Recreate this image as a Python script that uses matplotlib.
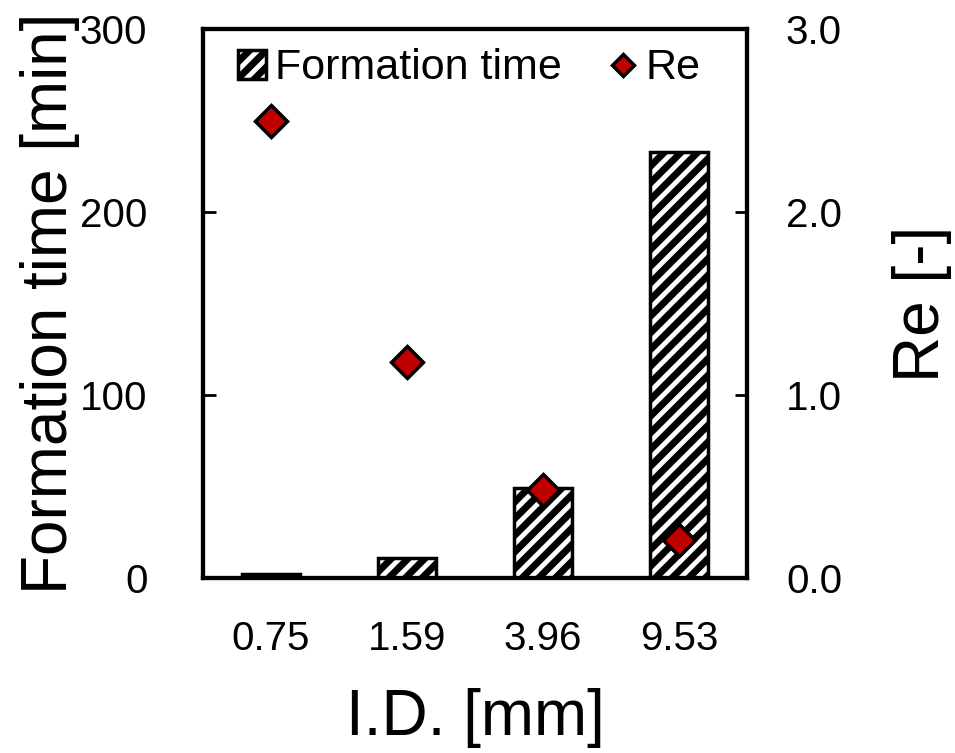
import matplotlib
matplotlib.use("Agg")
import matplotlib.pyplot as plt
import numpy as np

# data
inner_diameters = ["0.75", "1.59", "3.96", "9.53"]
formation_time = [2, 11, 49, 233]      # min
reynolds = [2.50, 1.18, 0.48, 0.21]    # -

plt.rcParams["font.family"] = ["Liberation Sans", "DejaVu Sans"]
plt.rcParams["hatch.linewidth"] = 5.0
plt.rcParams["hatch.color"] = "black"

fig = plt.figure(figsize=(9.55, 7.53), dpi=100)
ax = fig.add_axes([203 / 955, 1 - 578 / 753, 544 / 955, 549 / 753])
ax2 = ax.twinx()

x = np.arange(len(inner_diameters))
ax.bar(x, formation_time, width=0.42, color="white", edgecolor="black",
       linewidth=2.5, hatch="//", label="Formation time", zorder=2)
ax2.plot(x, reynolds, linestyle="none", marker="D", markersize=16,
         markerfacecolor="#C00000", markeredgecolor="black", markeredgewidth=2.5,
         label="Re", zorder=3)

ax.set_xlim(-0.5, 3.5)
ax.set_ylim(0, 300)
ax2.set_ylim(0, 3.0)
ax.set_xticks(x)
ax.set_xticklabels(inner_diameters)
ax.set_yticks([0, 100, 200, 300])
ax2.set_yticks([0, 1, 2, 3])
ax2.set_yticklabels(["0.0", "1.0", "2.0", "3.0"])

for a in (ax, ax2):
    for s in a.spines.values():
        s.set_linewidth(3)
    a.tick_params(labelsize=29, width=2, length=9, direction="in")
ax.tick_params(axis="y", pad=40)
ax2.tick_params(axis="y", pad=28)
ax.tick_params(axis="x", length=0, pad=30)

ax.set_xlabel("I.D. [mm]", fontsize=46, labelpad=22)
ax.set_ylabel("Formation time [min]", fontsize=46, labelpad=0)
ax2.set_ylabel("Re [-]", fontsize=46, labelpad=36)

h1, l1 = ax.get_legend_handles_labels()
h2, l2 = ax2.get_legend_handles_labels()
ax2.legend(h1 + h2, l1 + l2, loc="upper center", ncol=2, frameon=False,
           fontsize=31, handlelength=0.65, handleheight=0.65,
           handletextpad=0.2, columnspacing=1.1, markerscale=0.7,
           borderaxespad=0.05, bbox_to_anchor=(0.49, 1.0))

fig.savefig("out.png", dpi=100)
